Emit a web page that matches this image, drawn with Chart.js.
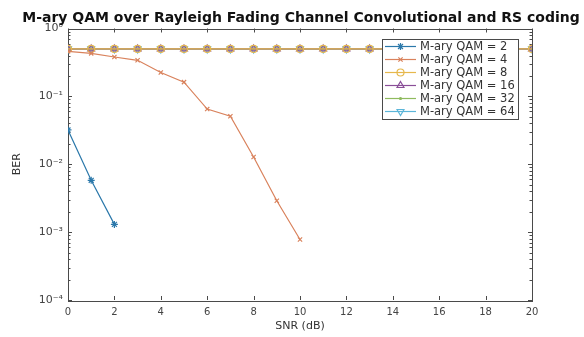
<!DOCTYPE html>
<html><head><meta charset="utf-8">
<script src="https://cdn.jsdelivr.net/npm/chart.js@4/dist/chart.umd.min.js"></script>
<style>html,body{margin:0;padding:0;background:#fff}</style>
</head><body>
<canvas id="c" width="584" height="337"></canvas>
<script>
// ---- data ----
const snr2 = [0, 1, 2];
const ber2 = [0.032, 0.0058, 0.0013];
const snr4 = [0, 1, 2, 3, 4, 5, 6, 7, 8, 9, 10];
const ber4 = [0.46, 0.43, 0.38, 0.34, 0.225, 0.162, 0.065, 0.051, 0.0128, 0.0029, 0.00078];
const snrAll = [0, 1, 2, 3, 4, 5, 6, 7, 8, 9, 10, 11, 12, 13, 14, 15, 16, 17, 18, 19, 20];
const ber8  = [0.5,0.5,0.5,0.5,0.5,0.5,0.5,0.5,0.5,0.5,0.5,0.5,0.5,0.5,0.5,0.5,0.5,0.5,0.5,0.5,0.5];
const ber16 = [0.5,0.5,0.5,0.5,0.5,0.5,0.5,0.5,0.5,0.5,0.5,0.5,0.5,0.5,0.5,0.5,0.5,0.5,0.5,0.5,0.5];
const ber32 = [0.5,0.5,0.5,0.5,0.5,0.5,0.5,0.5,0.5,0.5,0.5,0.5,0.5,0.5,0.5,0.5,0.5,0.5,0.5,0.5,0.5];
const ber64 = [0.5,0.5,0.5,0.5,0.5,0.5,0.5,0.5,0.5,0.5,0.5,0.5,0.5,0.5,0.5,0.5,0.5,0.5,0.5,0.5,0.5];
const seriesLabels = ['M-ary QAM = 2','M-ary QAM = 4','M-ary QAM = 8','M-ary QAM = 16','M-ary QAM = 32','M-ary QAM = 64'];
const xTickValues = [0, 2, 4, 6, 8, 10, 12, 14, 16, 18, 20];
const yTickValues = [1e-4, 1e-3, 1e-2, 1e-1, 1];
const yTickLabels = ['10\u207B\u2074', '10\u207B\u00B3', '10\u207B\u00B2', '10\u207B\u00B9', '10\u2070'];
const titleText = 'M-ary QAM over Rayleigh Fading Channel Convolutional and RS coding';
const xTitle = 'SNR (dB)';
const yTitle = 'BER';

const pts = (xs, ys) => xs.map((x, i) => ({x, y: ys[i]}));

const styles = [
  {color:'#2b78aa', pointStyle:'star', radius:3.5, rotation:0},
  {color:'#d9825c', pointStyle:'crossRot', radius:3, rotation:0},
  {color:'#e6b84c', pointStyle:'circle', radius:3.5, rotation:0},
  {color:'#8a4f98', pointStyle:'triangle', radius:4, rotation:0},
  {color:'#8fbb5e', pointStyle:'circle', radius:1, rotation:0},
  {color:'#5cb6d9', pointStyle:'triangle', radius:4, rotation:180}
];
const dataSets = [pts(snr2,ber2), pts(snr4,ber4), pts(snrAll,ber8), pts(snrAll,ber16), pts(snrAll,ber32), pts(snrAll,ber64)];

const datasets = dataSets.map((d, i) => ({
  label: seriesLabels[i],
  data: d,
  borderColor: styles[i].color,
  backgroundColor: 'rgba(0,0,0,0)',
  pointBorderColor: styles[i].color,
  pointBackgroundColor: styles[i].pointStyle === 'circle' && styles[i].radius < 2 ? styles[i].color : 'rgba(0,0,0,0)',
  pointStyle: styles[i].pointStyle,
  pointRadius: styles[i].radius,
  pointRotation: styles[i].rotation,
  pointBorderWidth: 1.2,
  borderWidth: 1.2,
  tension: 0,
  fill: false
}));

const boxTicks = {
  id: 'boxTicks',
  beforeDatasetsDraw(chart) {
    const {ctx, chartArea: a, scales: {x, y}} = chart;
    ctx.save();
    ctx.strokeStyle = '#4a4a4a';
    ctx.lineWidth = 1;
    ctx.strokeRect(Math.round(a.left) + 0.5, Math.round(a.top) + 0.5, Math.round(a.right - a.left), Math.round(a.bottom - a.top));
    ctx.beginPath();
    xTickValues.forEach(v => {
      const p = Math.round(x.getPixelForValue(v)) + 0.5;
      ctx.moveTo(p, a.bottom); ctx.lineTo(p, a.bottom - 4);
      ctx.moveTo(p, a.top); ctx.lineTo(p, a.top + 4);
    });
    yTickValues.forEach(v => {
      const p = Math.round(y.getPixelForValue(v)) + 0.5;
      ctx.moveTo(a.left, p); ctx.lineTo(a.left + 4, p);
      ctx.moveTo(a.right, p); ctx.lineTo(a.right - 4, p);
    });
    for (let d = 0; d < yTickValues.length - 1; d++) {
      for (let m = 2; m <= 9; m++) {
        const p = Math.round(y.getPixelForValue(yTickValues[d] * m)) + 0.5;
        ctx.moveTo(a.left, p); ctx.lineTo(a.left + 2.5, p);
        ctx.moveTo(a.right, p); ctx.lineTo(a.right - 2.5, p);
      }
    }
    ctx.stroke();
    ctx.restore();
  }
};

const boxLegend = {
  id: 'boxLegend',
  afterDraw(chart) {
    const {ctx} = chart;
    // title
    ctx.save();
    ctx.font = 'bold 14px "DejaVu Sans"';
    ctx.fillStyle = '#111';
    ctx.textAlign = 'center';
    ctx.textBaseline = 'middle';
    ctx.fillText(titleText, 301, 18);
    ctx.restore();
    // legend
    const L = 382, T = 39, W = 136, H = 80;
    ctx.save();
    ctx.fillStyle = '#fff';
    ctx.fillRect(L, T, W, H);
    ctx.strokeStyle = '#4a4a4a';
    ctx.lineWidth = 1;
    ctx.strokeRect(L + 0.5, T + 0.5, W, H);
    ctx.font = '11.5px "DejaVu Sans"';
    ctx.textBaseline = 'middle';
    ctx.textAlign = 'left';
    chart.data.datasets.forEach((ds, i) => {
      const yy = T + 7.5 + i * 13;
      ctx.strokeStyle = ds.borderColor;
      ctx.lineWidth = 1.2;
      ctx.beginPath(); ctx.moveTo(L + 3, yy); ctx.lineTo(L + 34, yy); ctx.stroke();
      ctx.fillStyle = ds.pointBackgroundColor;
      Chart.helpers.drawPoint(ctx, {pointStyle: ds.pointStyle, radius: ds.pointRadius, rotation: ds.pointRotation, borderWidth: 1.2}, L + 18.5, yy);
      ctx.fillStyle = '#333';
      ctx.fillText(ds.label, L + 38, yy + 0.5);
    });
    ctx.restore();
  }
};

new Chart(document.getElementById('c'), {
  type: 'line',
  data: {datasets},
  plugins: [boxTicks, boxLegend],
  options: {
    responsive: false,
    animation: false,
    devicePixelRatio: 1,
    layout: {padding: {left: 0, right: 52, top: 28.5, bottom: 0}},
    plugins: {
      legend: {display: false},
      tooltip: {enabled: false},
      title: {display: false}
    },
    scales: {
      x: {
        type: 'linear', min: 0, max: 20,
        grid: {display: false, drawTicks: false},
        border: {display: false},
        afterBuildTicks: s => { s.ticks = xTickValues.map(v => ({value: v})); },
        afterFit: s => { s.height = 37; },
        ticks: {color: '#444', padding: 6, maxRotation: 0, font: {family: '"DejaVu Sans"', size: 10}},
        title: {display: true, text: xTitle, color: '#333', padding: {top: 0, bottom: 4}, font: {family: '"DejaVu Sans"', size: 11}}
      },
      y: {
        type: 'logarithmic', min: 1e-4, max: 1,
        grid: {display: false, drawTicks: false},
        border: {display: false},
        afterBuildTicks: s => { s.ticks = yTickValues.map(v => ({value: v})); },
        afterFit: s => { s.width = 68; },
        ticks: {color: '#444', padding: 5, font: {family: '"DejaVu Sans"', size: 11},
          callback: (v) => { const i = yTickValues.indexOf(v); return i >= 0 ? yTickLabels[i] : ''; }},
        title: {display: true, text: yTitle, color: '#333', padding: {top: 11, bottom: 0}, font: {family: '"DejaVu Sans"', size: 11}}
      }
    }
  }
});
</script>
</body></html>
